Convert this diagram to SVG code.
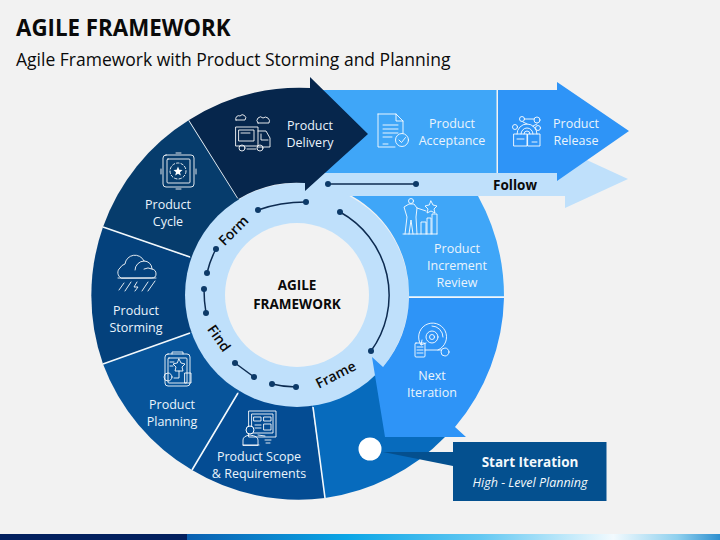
<svg xmlns="http://www.w3.org/2000/svg" width="720" height="540" viewBox="0 0 720 540">
<defs>
<linearGradient id="bar" x1="187" x2="720" y1="0" y2="0" gradientUnits="userSpaceOnUse">
<stop offset="0" stop-color="#0A5FB0"/><stop offset="0.3" stop-color="#0BA6E6"/><stop offset="0.55" stop-color="#63C8F2"/><stop offset="0.8" stop-color="#F2FAFE"/><stop offset="0.92" stop-color="#8FD0EE"/><stop offset="1" stop-color="#2E8FCF"/>
</linearGradient>
<circle id="dot" r="3" fill="#0D3A68"/>
</defs>
<style>
text{font-family:"Open Sans","Noto Sans","Liberation Sans",sans-serif}
.t{font-size:12.5px;fill:#EAF4FC;text-anchor:middle}
.b{font-weight:700;fill:#0A0A0A;text-anchor:middle}
.r{font-size:14px;font-weight:600;fill:#0A0A0A;text-anchor:middle}
.i{fill:none;stroke:#fff;stroke-width:1;stroke-linejoin:round;stroke-linecap:round;opacity:.88}
.w{fill:#fff;stroke:none}
.c{fill:none;stroke:#0D2B50;stroke-width:1.5}
.s{stroke:#F2F8FC;stroke-width:1.6;fill:none}
</style>
<rect width="720" height="540" fill="#F2F2F2"/>
<rect x="0" y="534" width="187" height="6" fill="#03205F"/>
<rect x="187" y="534" width="533" height="6" fill="url(#bar)"/>
<text x="16" y="36" font-size="22.3" font-weight="700" fill="#0A0A0A">AGILE FRAMEWORK</text>
<text x="16" y="66" font-size="17.5" fill="#0A0A0A">Agile Framework with Product Storming and Planning</text>

<g id="segments-back">
<path id="seg-iter-base" d="M297 295L325 498A207 207 0 0 0 445 437Z" fill="#076BBD"/>
<path id="seg-cycle" d="M189 120A207 207 0 0 0 103 227L297 295L238 198Z" fill="#063C6C"/>
<path id="seg-storm" d="M103 227A207 207 0 0 0 103 364L297 295Z" fill="#04417C"/>
<path id="seg-plan" d="M103 364A207 207 0 0 0 192 470L297 295Z" fill="#07549A"/>
<path id="seg-scope" d="M192 470A207 207 0 0 0 325 498L297 295Z" fill="#044C93"/>
<path d="M189 120L238 198M103 227L190 257M103 364L190 333M192 470L238 393M325 498L313 407" class="s"/>
</g>

<path id="follow-arrow" d="M300 173H565V150L628 179L565 208V196H300Z" fill="#BFE0FB"/>
<circle id="ring" cx="297" cy="295" r="112" fill="#BFE0FB"/>
<circle id="hub" cx="297" cy="295" r="72" fill="#F2F2F2"/>

<g id="product-acceptance">
<rect x="315" y="90" width="181.500" height="83" fill="#3FA6F8"/>
<path class="i" d="M378 114H396L403 121V133M396 114V121H403M395 147H378V114M383 125H398M383 129H398M383 133H398M383 137H392M383 144H388"/>
<circle class="i" cx="402" cy="140" r="6.500"/>
<path class="i" d="M399 140L401.500 142.500L405.500 137.500"/>
<text class="t" x="452" y="128">Product</text>
<text class="t" x="452" y="145">Acceptance</text>
</g>

<g id="product-release">
<path d="M498 90H557V82L629 131L557 181V173H498Z" fill="#2E94F7"/>
<path class="i" d="M514 134H527V146H514ZM528 134H540V146H528ZM517 139H524M532 142H537M517 134A10 10 0 0 1 537 134M521 134A6 6 0 0 1 533 134M524 134A3 3 0 0 1 530 134M525 119H534M523 122L527 124M537 124L533 126"/>
<circle class="i" cx="522" cy="119" r="2.500"/><circle class="i" cx="537" cy="120" r="3"/><circle class="i" cx="515" cy="127" r="2.500"/><circle class="i" cx="538" cy="128" r="2.500"/>
<text class="t" x="576" y="128">Product</text>
<text class="t" x="576" y="145">Release</text>
</g>

<g id="product-increment-review">
<path d="M352 196H478A207 207 0 0 1 504 297H409A112 112 0 0 0 352 196Z" fill="#3FA6F8"/>
<path class="i" d="M403 234H437M421 234V222H426V234M427 234V218H431V234M432 234V214H437V234M405 234L407 217L404 207L409 204H414L417 208L426 211M409 234L411 220L413 234M417 234L416 217L417 208"/>
<circle class="i" cx="411" cy="201" r="2.500"/>
<path class="i" d="M431 201L433 205L437 206L434 209L435 213L431 211L427 213L428 209L425 206L429 205Z"/>
<text class="t" x="457" y="253">Product</text>
<text class="t" x="457" y="270">Increment</text>
<text class="t" x="457" y="287">Review</text>
</g>

<g id="next-iteration">
<path d="M409 298A112 112 0 0 1 383 367L372 357L385 437H466L455 427A207 207 0 0 0 504 298Z" fill="#2E94F7"/>
<path class="i" d="M438 350A14 14 0 1 0 421 345M422 340L421 345L426 343M425 350H441M443 337A11 11 0 0 0 432 326"/>
<circle class="i" cx="432" cy="337" r="6"/><circle class="i" cx="432" cy="337" r="2.500"/>
<rect class="i" x="415" y="343" width="10" height="14" rx="1"/>
<path class="i" d="M417 347H423M417 350H423M417 353H423"/>
<circle class="i" cx="445" cy="352" r="4"/>
<text class="t" x="432" y="380">Next</text>
<text class="t" x="432" y="397">Iteration</text>
</g>
<path d="M409 297H504" class="s"/>

<g id="product-delivery">
<path d="M189 120A207 207 0 0 1 310 88V77L368 134L305 191V183A112 112 0 0 0 238.500 199Z" fill="#06264C"/>
<path class="i" d="M236 127H258V146H236ZM239 130H254V141H239ZM241 133H250M258 131H266L270 138V147H258M261 134V140H268M236 120H245A3 3 0 0 0 240 116A3 3 0 0 0 236 120ZM258 123H269A4 4 0 0 0 263 118A3 3 0 0 0 258 123ZM247 149H256"/>
<circle class="i" cx="242" cy="148" r="3"/><circle class="i" cx="260" cy="148" r="3"/>
<text class="t" x="310" y="130">Product</text>
<text class="t" x="310" y="147">Delivery</text>
</g>

<g id="product-cycle">
<rect class="i" x="163" y="155" width="31" height="32" rx="3"/>
<rect class="i" x="167" y="159" width="23" height="24" rx="1"/>
<circle class="i" cx="178" cy="171" r="8" stroke-dasharray="2.500 2"/>
<path class="i" d="M176 153H181M176 189H181M161 169V174M196 169V174"/>
<path class="w" d="M178 166.500L179.300 169.700L182.500 170L180 172.200L180.800 175.500L178 173.700L175.200 175.500L176 172.200L173.500 170L176.700 169.700Z"/>
<text class="t" x="168" y="209">Product</text>
<text class="t" x="168" y="226">Cycle</text>
</g>

<g id="product-storming">
<path class="i" d="M121 278A6 6 0 0 1 120 268A8 8 0 0 1 125 264A10 10 0 0 1 144 261A8 8 0 0 1 152 269A5 5 0 0 1 156 274Q156 278 152 278ZM144 261A9 9 0 0 0 135 270M152 269A8 8 0 0 0 144 269M118 278H156M124 283L119 290M131 282L125 291M137 282L134 287L138 287L135 291M148 282L142 291M155 281L148 291"/>
<text class="t" x="136" y="315">Product</text>
<text class="t" x="136" y="332">Storming</text>
</g>

<g id="product-planning">
<rect class="i" x="165" y="354" width="25" height="32" rx="3"/>
<rect class="i" x="168" y="358" width="19" height="25" rx="1"/>
<path class="i" d="M172 354V352H183V354M179 359L181 363L185 364L182 367L183 371H175L176 367L173 364L177 363ZM179 371V378H174M170 362H174M170 366H173"/>
<circle class="i" cx="168" cy="377" r="4"/>
<rect class="i" x="185" y="373" width="6" height="10"/>
<text class="t" x="172" y="409">Product</text>
<text class="t" x="172" y="426">Planning</text>
</g>

<g id="product-scope">
<rect class="i" x="249" y="411" width="27" height="26"/>
<rect class="i" x="252" y="414" width="21" height="19"/>
<path class="i" d="M254 417H261V421H254ZM264 417H271V421H264ZM264 424H271V430H264ZM255 425H261M255 428H261M243 445V440Q243 436 250 435Q258 436 258 440V445ZM243 445H259M258 435L265 436M265 440H271M266 443H270"/>
<circle cx="250" cy="430" r="4" fill="#044C93" stroke="#fff" stroke-width="1"/>
<text class="t" x="259" y="461">Product Scope</text>
<text class="t" x="259" y="478">&amp; Requirements</text>
</g>

<g id="start-iteration">
<path d="M383 452H453V466Z" fill="#04508F"/>
<circle cx="370" cy="449" r="11.500" fill="#fff"/>
<rect x="453" y="442" width="153.500" height="59" fill="#04508F"/>
<text x="530" y="467" font-size="13.500" font-weight="700" fill="#F2F8FC" text-anchor="middle">Start Iteration</text>
<text x="530" y="487" font-size="12.500" font-style="italic" fill="#F2F8FC" text-anchor="middle">High - Level Planning</text>
</g>

<g id="connectors">
<path class="c" d="M258 210Q280 202 306 202"/>
<path class="c" d="M207 273Q210 260 216 249"/>
<path class="c" d="M204 289Q204 301 206 313"/>
<path class="c" d="M235 363L254 377"/>
<path class="c" d="M272 384Q284 387 296 387"/>
<path class="c" d="M340 212A95 95 0 0 1 371 351"/>
<path class="c" d="M328 184H416"/>
<use href="#dot" x="258" y="210"/><use href="#dot" x="306" y="202"/>
<use href="#dot" x="216" y="249"/><use href="#dot" x="207" y="273"/>
<use href="#dot" x="204" y="289"/><use href="#dot" x="206" y="313"/>
<use href="#dot" x="235" y="363"/><use href="#dot" x="254" y="377"/>
<use href="#dot" x="272" y="384"/><use href="#dot" x="296" y="387"/>
<use href="#dot" x="340" y="212"/><use href="#dot" x="371" y="351"/>
<use href="#dot" x="328" y="184"/><use href="#dot" x="416" y="184"/>
</g>

<g id="labels">
<text class="b" x="297" y="290" font-size="13.500">AGILE</text>
<text class="b" x="297" y="309" font-size="13.500">FRAMEWORK</text>
<text class="b" x="515" y="190" font-size="13.500">Follow</text>
<text class="r" transform="translate(237 234) rotate(-45)">Form</text>
<text class="r" transform="translate(215 341) rotate(55)">Find</text>
<text class="r" transform="translate(338 379) rotate(-27)">Frame</text>
</g>
</svg>
